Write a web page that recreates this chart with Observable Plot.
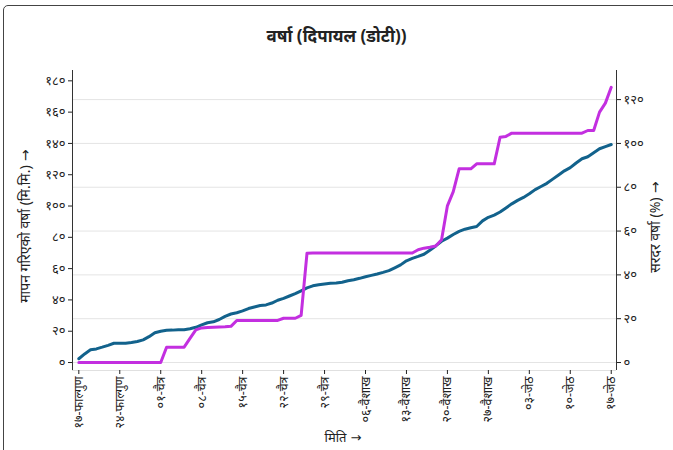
<!DOCTYPE html>
<html>
<head>
<meta charset="utf-8">
<script src="https://cdn.jsdelivr.net/npm/d3@7"></script>
<script src="https://cdn.jsdelivr.net/npm/@observablehq/plot@0.6"></script>
<style>
  html, body { margin: 0; padding: 0; background: #fff; }
  body { width: 673px; height: 450px; position: relative; overflow: hidden; font-family: "Noto Sans", sans-serif; }
  #frame { position: absolute; left: 3px; top: 5px; width: 720px; height: 500px; border: 1px solid #444; border-radius: 5px; }
  #title { position: absolute; left: 0; width: 673px; top: 24px; text-align: center; font-size: 17px; font-weight: bold; color: #222; }
  #chart { position: absolute; left: 0; top: 55px; }
  .ylab { position: absolute; font-size: 14px; color: #222; white-space: nowrap; transform: translate(-50%, -50%) rotate(-90deg); }
  #xlab { position: absolute; font-size: 13px; color: #222; white-space: nowrap; transform: translate(-50%, -50%); left: 343px; top: 437px; }
  .arr { font-family: "DejaVu Sans", sans-serif; }
</style>
</head>
<body>
<div id="frame"></div>
<div id="title">वर्षा (दिपायल (डोटी))</div>
<div id="chart"></div>
<div class="ylab" style="left:24px; top:226px;">मापन गरिएको वर्षा (मि.मि.)<span class="arr"> →</span></div>
<div class="ylab" style="left:654px; top:227px;">सरदर वर्षा (%)<span class="arr"> →</span></div>
<div id="xlab">मिति<span class="arr"> →</span></div>
<script>
// Day index 0 = १७-फाल्गुण, one value per day up to १७-जेठ (day 91)
const measuredMM = [
  2.4, 5.5, 8.1, 8.7, 9.8, 11.0, 12.3, 12.3, 12.3, 12.8,
  13.4, 14.5, 16.5, 19.0, 20.0, 20.6, 20.7, 20.9, 21.0, 21.6,
  22.5, 24.0, 25.4, 26.0, 27.5, 29.5, 31.0, 31.8, 33.0, 34.5,
  35.5, 36.4, 36.8, 38.0, 39.8, 41.0, 42.5, 44.0, 45.8, 47.7,
  49.0, 49.7, 50.2, 50.7, 50.8, 51.3, 52.2, 52.9, 53.8, 54.8,
  55.7, 56.6, 57.6, 58.7, 60.5, 62.4, 65.0, 66.5, 67.8, 69.2,
  71.8, 74.5, 77.5, 79.5, 81.8, 83.8, 85.2, 86.1, 86.9, 90.5,
  92.8, 94.2, 96.2, 98.8, 101.4, 103.6, 105.5, 107.8, 110.5, 112.5,
  114.5, 117.2, 119.8, 122.5, 124.5, 127.5, 130.2, 131.5, 134.0, 136.6,
  138.0, 139.3
];
const normalPct = [
  0, 0, 0, 0, 0, 0, 0, 0, 0, 0,
  0, 0, 0, 0, 0, 7.0, 7.0, 7.0, 7.0, 11.0,
  14.9, 15.8, 16.0, 16.1, 16.2, 16.3, 16.5, 19.2, 19.2, 19.2,
  19.2, 19.2, 19.2, 19.2, 19.2, 20.2, 20.2, 20.2, 21.5, 49.9,
  50, 50, 50, 50, 50, 50, 50, 50, 50, 50,
  50, 50, 50, 50, 50, 50, 50, 50, 51.5, 52.2,
  52.6, 53.2, 56.0, 71.5, 78.0, 88.4, 88.4, 88.4, 90.7, 90.7,
  90.7, 90.7, 102.8, 103.2, 104.7, 104.7, 104.7, 104.7, 104.7, 104.7,
  104.7, 104.7, 104.7, 104.7, 104.7, 104.7, 104.7, 105.9, 105.9, 114.3,
  118.4, 125.6
];
const xTickDays = [0, 7, 14, 21, 28, 35, 42, 49, 56, 63, 70, 77, 84, 91];
const xTickLabels = ["१७-फाल्गुण", "२४-फाल्गुण", "०१-चैत्र", "०८-चैत्र", "१५-चैत्र", "२२-चैत्र", "२९-चैत्र",
  "०६-वैशाख", "१३-वैशाख", "२०-वैशाख", "२७-वैशाख", "०३-जेठ", "१०-जेठ", "१७-जेठ"];
const mmTicks = [0, 20, 40, 60, 80, 100, 120, 140, 160, 180];
const pctTicks = [0, 20, 40, 60, 80, 100, 120];
const pctToMM = 1.4; // secondary axis ratio: 100% sits level with 140 mm

const devDigits = "०१२३४५६७८९";
const dev = n => String(n).replace(/[0-9]/g, c => devDigits[+c]);

const data = measuredMM.map((v, i) => ({day: i, mm: v, pct: normalPct[i]}));
const labelOf = new Map(xTickDays.map((d, i) => [d, xTickLabels[i]]));

const xDom = [-1.08, 91.9];
const yDom = [-5.1, 186.6];
const font = "'Noto Sans', sans-serif";

const chart = Plot.plot({
  width: 673,
  height: 395,
  marginLeft: 72,
  marginRight: 57,
  marginTop: 15,
  marginBottom: 80,
  style: {fontFamily: font, background: "transparent", color: "#222"},
  x: {domain: xDom, axis: null},
  y: {domain: yDom, axis: null},
  marks: [
    Plot.gridY(pctTicks.map(p => p * pctToMM), {stroke: "#e4e4e4", strokeOpacity: 1}),
    Plot.ruleY([yDom[0]], {stroke: "#e0e0e0"}),
    Plot.ruleX([xDom[0]], {stroke: "#333"}),
    Plot.ruleX([xDom[1]], {stroke: "#333"}),
    Plot.axisY(mmTicks, {anchor: "left", tickFormat: dev, tickSize: 4, tickPadding: 3, label: null, fontSize: 13}),
    Plot.axisY(pctTicks.map(p => p * pctToMM), {anchor: "right", tickFormat: d => dev(Math.round(d / pctToMM)), tickSize: 4, tickPadding: 3, label: null, fontSize: 13}),
    Plot.axisX(xTickDays, {anchor: "bottom", tickFormat: d => labelOf.get(d), tickRotate: -90, tickSize: 4, tickPadding: 2, label: null, fontSize: 12.5}),
    Plot.line(data, {x: "day", y: "mm", stroke: "#12628c", strokeWidth: 3}),
    Plot.line(data, {x: "day", y: d => d.pct * pctToMM, stroke: "#c32fe0", strokeWidth: 3})
  ]
});
document.getElementById("chart").appendChild(chart);
</script>
</body>
</html>
